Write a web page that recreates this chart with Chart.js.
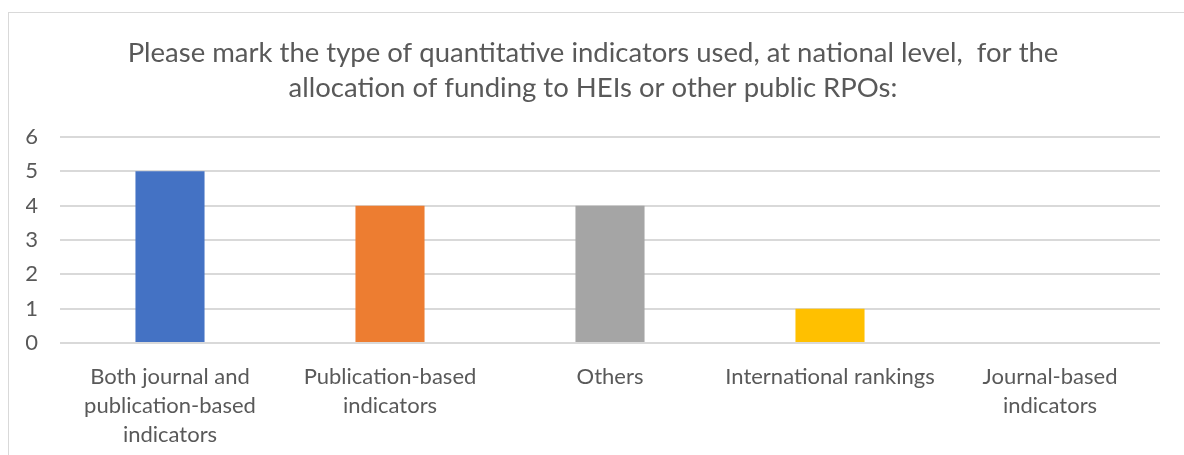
<!DOCTYPE html>
<html>
<head>
<meta charset="utf-8">
<script src="https://cdn.jsdelivr.net/npm/chart.js@4"></script>
<style>
  html, body { margin: 0; padding: 0; background: #fff; overflow: hidden; }
  #wrap { position: relative; width: 1184px; height: 455px; }
  #frame { position: absolute; left: 8px; top: 12px; width: 1300px; height: 600px; border: 1px solid #d9d9d9; }
  canvas { position: absolute; left: 0; top: 0; }
</style>
</head>
<body>
<div id="wrap">
  <div id="frame"></div>
  <canvas id="barChart" width="1184" height="455"></canvas>
</div>
<script>
// categories and values
const categories = [
  ["Both journal and", "publication-based", "indicators"],
  ["Publication-based", "indicators"],
  "Others",
  "International rankings",
  ["Journal-based", "indicators"]
];
const counts = [5, 4, 4, 1, 0];
const barColors = ["#4472C4", "#ED7D31", "#A5A5A5", "#FFC000", "#5B9BD5"];
const yTicks = [0, 1, 2, 3, 4, 5, 6];
const titleLines = [
  "Please mark the type of quantitative indicators used, at national level,  for the",
  "allocation of funding to HEIs or other public RPOs:"
];

const ctx = document.getElementById('barChart');
new Chart(ctx, {
  type: 'bar',
  data: {
    labels: categories,
    datasets: [{
      data: counts,
      backgroundColor: barColors,
      barPercentage: 1,
      categoryPercentage: 0.314
    }]
  },
  options: {
    responsive: false,
    animation: false,
    layout: { padding: { left: 26, right: 24, top: 36, bottom: 0 } },
    plugins: {
      legend: { display: false },
      tooltip: { enabled: false },
      title: {
        display: true,
        text: titleLines,
        color: '#595959',
        font: { family: 'Lato', size: 27.5, weight: 'normal', lineHeight: 1.273 },
        padding: { top: 0, bottom: 31 }
      }
    },
    scales: {
      x: {
        afterFit: (scale) => { scale.height = 112; },
        grid: { display: false },
        border: { display: false },
        ticks: {
          color: '#595959',
          font: { family: 'Lato', size: 22, lineHeight: 1.32 },
          maxRotation: 0,
          autoSkip: false,
          padding: 11
        }
      },
      y: {
        min: 0,
        max: 6,
        afterFit: (scale) => { scale.width = 34; },
        afterBuildTicks: (axis) => { axis.ticks = yTicks.map(v => ({ value: v })); },
        grid: { color: '#d9d9d9', lineWidth: 2, drawTicks: false },
        border: { display: false },
        ticks: {
          color: '#595959',
          font: { family: 'Lato', size: 22 },
          padding: 22
        }
      }
    }
  }
});
</script>
</body>
</html>
